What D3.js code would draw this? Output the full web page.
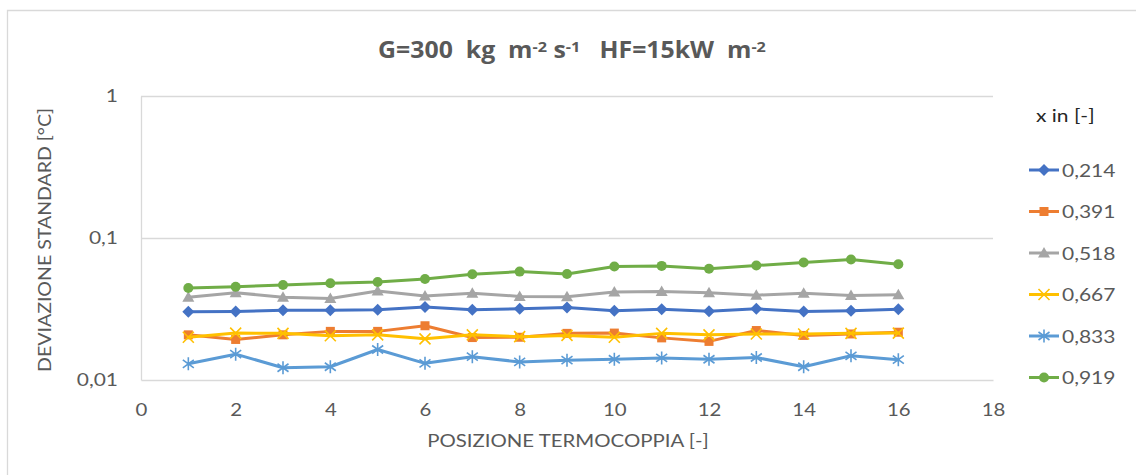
<!DOCTYPE html>
<html>
<head>
<meta charset="utf-8">
<script src="https://cdn.jsdelivr.net/npm/d3@7"></script>
<style>
  html, body { margin: 0; padding: 0; background: #fff; }
  svg { display: block; font-family: Lato, "Open Sans", sans-serif; }
</style>
</head>
<body>
<svg id="chart" width="1136" height="475"></svg>
<script>
// Thermocouple positions along the test section
const positions = [1, 2, 3, 4, 5, 6, 7, 8, 9, 10, 11, 12, 13, 14, 15, 16];

// Standard deviation [°C] per inlet quality
const sd214 = [0.0302, 0.0304, 0.0310, 0.0310, 0.0312, 0.0327, 0.0312, 0.0317, 0.0324, 0.0307, 0.0315, 0.0305, 0.0317, 0.0304, 0.0307, 0.0315];
const sd391 = [0.0208, 0.0193, 0.0208, 0.0220, 0.0220, 0.0241, 0.0199, 0.0200, 0.0213, 0.0214, 0.0198, 0.0187, 0.0223, 0.0206, 0.0211, 0.0217];
const sd518 = [0.0382, 0.0412, 0.0383, 0.0375, 0.0423, 0.0391, 0.0409, 0.0388, 0.0386, 0.0416, 0.0420, 0.0411, 0.0396, 0.0409, 0.0394, 0.0399];
const sd667 = [0.0200, 0.0214, 0.0213, 0.0205, 0.0208, 0.0195, 0.0208, 0.0202, 0.0206, 0.0200, 0.0213, 0.0208, 0.0211, 0.0211, 0.0213, 0.0214];
const sd833 = [0.0130, 0.0152, 0.0122, 0.0124, 0.0164, 0.0131, 0.0146, 0.0134, 0.0138, 0.0140, 0.0143, 0.0140, 0.0144, 0.0124, 0.0148, 0.0139];
const sd919 = [0.0444, 0.0454, 0.0467, 0.0480, 0.0490, 0.0514, 0.0555, 0.0580, 0.0558, 0.0630, 0.0636, 0.0608, 0.0640, 0.0673, 0.0706, 0.0654];

const seriesNames = ["0,214", "0,391", "0,518", "0,667", "0,833", "0,919"];
const seriesValues = [sd214, sd391, sd518, sd667, sd833, sd919];
const seriesColors = ["#4472C4", "#ED7D31", "#A5A5A5", "#FFC000", "#5B9BD5", "#70AD47"];
const seriesMarkers = ["diamond", "square", "triangle", "x", "star", "circle"];

const xTicks = [0, 2, 4, 6, 8, 10, 12, 14, 16, 18];
const yTicks = [0.01, 0.1, 1];
const yTickLabels = ["0,01", "0,1", "1"];

const svg = d3.select("#chart");
const textColor = "#595959";
const lineGray = "#D9D9D9";
const stretch = 1.2; // horizontal widening applied to all text

// Text placed at (x, y) and widened horizontally around its anchor
function wideText(parent, x, y, str, sx = stretch) {
  return parent.append("text")
    .attr("transform", `translate(${x},${y}) scale(${sx},1)`)
    .text(str);
}

// Outer chart frame
svg.append("path")
  .attr("d", "M7.5,475 V10.5 H1136")
  .attr("fill", "none").attr("stroke", lineGray).attr("stroke-width", 1.3);

const x = d3.scaleLinear().domain([0, 18]).range([141, 993]);
const y = d3.scaleLog().domain([0.01, 1]).range([380, 96]);

// Horizontal major gridlines
svg.append("g").selectAll("line").data(yTicks.slice(1)).join("line")
  .attr("x1", x(0)).attr("x2", x(18))
  .attr("y1", d => Math.round(y(d)) + 0.5).attr("y2", d => Math.round(y(d)) + 0.5)
  .attr("stroke", lineGray).attr("stroke-width", 1.3);

// Axes
const yPad = 23;
const yAxis = d3.axisLeft(y).tickValues(yTicks)
  .tickFormat((d, i) => yTickLabels[i]).tickSize(0).tickPadding(yPad);
const yg = svg.append("g").attr("transform", "translate(141,0)").call(yAxis);
yg.select(".domain").attr("stroke", lineGray).attr("stroke-width", 1.3);
yg.selectAll("text").attr("fill", textColor).attr("font-size", 17.5)
  .attr("font-family", "Lato, sans-serif")
  .attr("x", 0).attr("transform", `translate(${-yPad},0) scale(${stretch},1)`);

const xAxis = d3.axisBottom(x).tickValues(xTicks).tickSize(0).tickPadding(24);
const xg = svg.append("g").attr("transform", "translate(0,380)").call(xAxis);
xg.select(".domain").attr("stroke", lineGray).attr("stroke-width", 1.3);
xg.selectAll("text").attr("fill", textColor).attr("font-size", 17)
  .attr("font-family", "Lato, sans-serif")
  .attr("transform", `scale(${stretch},1)`);

// Axis titles
wideText(svg, 568, 447, "POSIZIONE TERMOCOPPIA [-]")
  .attr("text-anchor", "middle").attr("fill", textColor).attr("font-size", 17);

svg.append("text")
  .attr("transform", `translate(51,240) rotate(-90) scale(1.15,1)`)
  .attr("text-anchor", "middle")
  .attr("fill", textColor).attr("font-size", 17)
  .text("DEVIAZIONE STANDARD [°C]");

// Title with superscripts
const title = wideText(svg, 572, 58, null, 1.08)
  .attr("text-anchor", "middle").style("white-space", "pre")
  .attr("fill", textColor).attr("font-size", 23).attr("font-weight", "bold")
  .attr("font-family", "'Open Sans', sans-serif");
const titleParts = [
  ["G=300  kg  m", 0], ["-2", 1], [" s", 0], ["-1", 1], ["   HF=15kW  m", 0], ["-2", 1]
];
titleParts.forEach(([t, sup]) => {
  title.append("tspan")
    .attr("font-size", sup ? 15 : 23)
    .attr("baseline-shift", sup ? "40%" : null)
    .text(t);
});

// Marker shapes
function drawMarker(g, type, color) {
  if (type === "diamond") {
    g.append("path").attr("d", "M0,-6 L6,0 L0,6 L-6,0Z").attr("fill", color);
  } else if (type === "square") {
    g.append("rect").attr("x", -4.5).attr("y", -4.5).attr("width", 9).attr("height", 9).attr("fill", color);
  } else if (type === "triangle") {
    g.append("path").attr("d", "M0,-6 L6,4.5 L-6,4.5Z").attr("fill", color);
  } else if (type === "x") {
    g.append("path").attr("d", "M-5.5,-5.5 L5.5,5.5 M-5.5,5.5 L5.5,-5.5")
      .attr("stroke", color).attr("stroke-width", 1.6).attr("fill", "none");
  } else if (type === "star") {
    g.append("path").attr("d", "M0,-6.5 L0,6.5 M-5.5,-4 L5.5,4 M-5.5,4 L5.5,-4")
      .attr("stroke", color).attr("stroke-width", 1.6).attr("fill", "none");
  } else if (type === "circle") {
    g.append("circle").attr("r", 5).attr("fill", color);
  }
}

// Series lines and markers
const line = d3.line().x(d => x(d[0])).y(d => y(d[1]));
seriesValues.forEach((vals, i) => {
  const pts = positions.map((p, k) => [p, vals[k]]);
  const g = svg.append("g");
  g.append("path").datum(pts).attr("d", line)
    .attr("fill", "none").attr("stroke", seriesColors[i])
    .attr("stroke-width", 3).attr("stroke-linejoin", "round").attr("stroke-linecap", "round");
  pts.forEach(p => {
    const m = g.append("g").attr("transform", `translate(${x(p[0])},${y(p[1])})`);
    drawMarker(m, seriesMarkers[i], seriesColors[i]);
  });
});

// Legend
wideText(svg, 1036, 122, "x in [-]")
  .attr("fill", "#262626").attr("font-size", 17.5);

seriesNames.forEach((name, i) => {
  const ly = 170 + i * 41.5;
  const g = svg.append("g").attr("transform", `translate(0,${ly})`);
  g.append("line").attr("x1", 1029).attr("x2", 1059).attr("y1", 0).attr("y2", 0)
    .attr("stroke", seriesColors[i]).attr("stroke-width", 3);
  const m = g.append("g").attr("transform", "translate(1044,0)");
  drawMarker(m, seriesMarkers[i], seriesColors[i]);
  wideText(g, 1062, 6.5, name)
    .attr("fill", textColor).attr("font-size", 17.5);
});
</script>
</body>
</html>
